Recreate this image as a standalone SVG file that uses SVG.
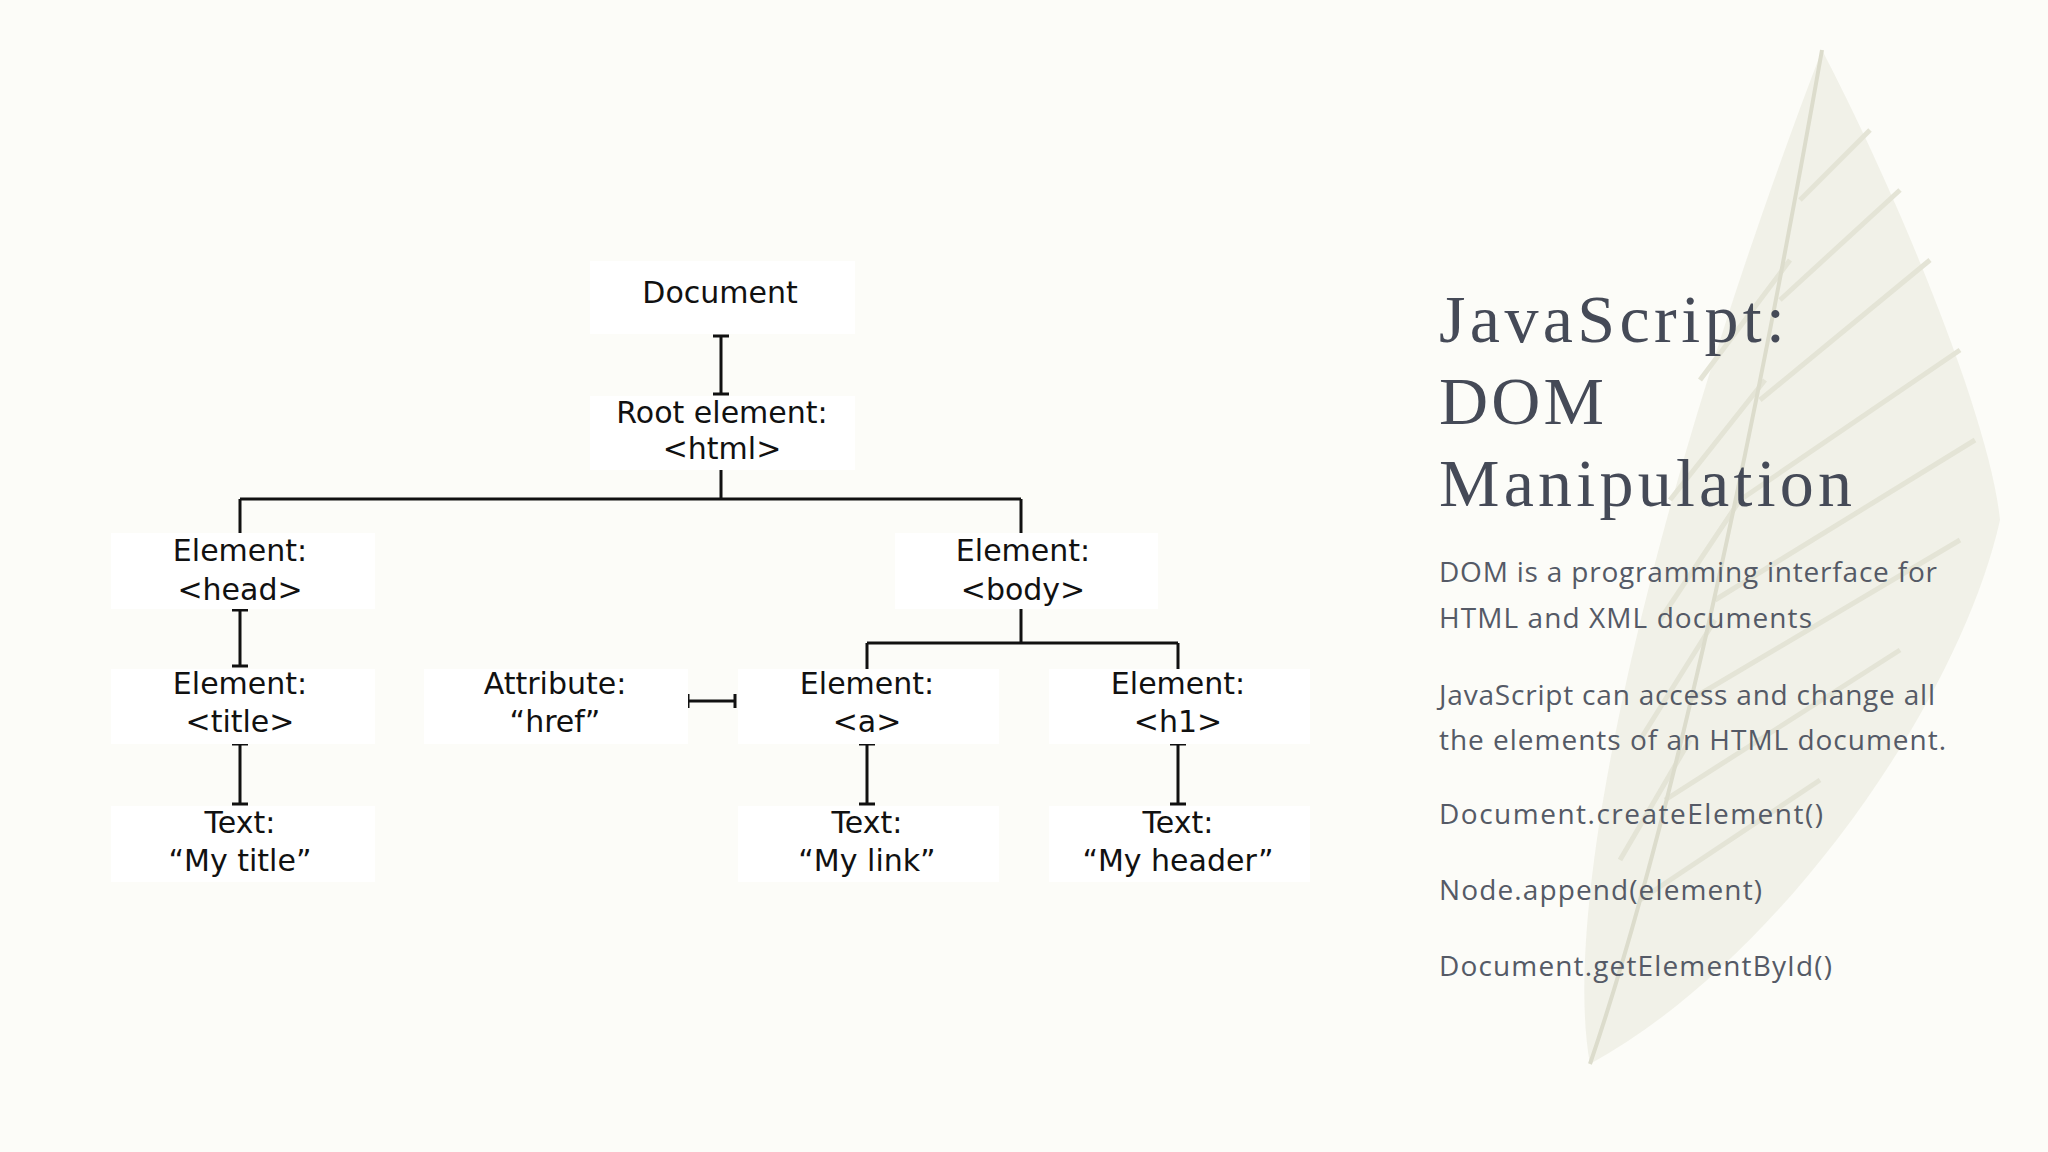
<svg xmlns="http://www.w3.org/2000/svg" width="2048" height="1152" viewBox="0 0 2048 1152">
<style>
.box{fill:#ffffff}
.t{font-family:"DejaVu Sans",sans-serif;font-size:30px;fill:#111;text-anchor:middle}
.c{stroke:#111;stroke-width:3;fill:none}
.h{font-family:"Liberation Serif",serif;font-size:68px;fill:#454a57}
.b{font-family:"Open Sans",sans-serif;font-size:28px;fill:#555a66}
.barb{stroke:#e4e4d6;stroke-width:5;fill:none}
</style>
<rect width="2048" height="1152" fill="#fcfcf8"/>
<g id="feather">
<path d="M1822,50 C1900,200 1990,420 2000,520 C1960,700 1780,960 1590,1064 C1560,900 1650,500 1822,50 Z" fill="#f1f1e8"/>
<path class="barb" d="M1800,200 L1870,130 M1780,300 L1900,190 M1760,400 L1930,260 M1740,500 L1960,350 M1715,600 L1975,440 M1690,700 L1960,540 M1665,800 L1900,650 M1640,900 L1820,780 M1790,260 L1700,380 M1765,380 L1670,500 M1740,500 L1660,620 M1715,620 L1640,740 M1690,740 L1620,860"/>
<path d="M1822,50 C1760,400 1680,800 1590,1064" fill="none" stroke="#dcdccc" stroke-width="4"/>
</g>
<g id="connectors" class="c">
<path d="M721,336 V394 M713,336 H729 M713,394 H729"/>
<path d="M721,470 V499 M240,499 H1021 M240,499 V533 M1021,499 V533"/>
<path d="M240,610 V666 M232,610 H248 M232,666 H248"/>
<path d="M1021,609 V643 M867,643 H1178 M867,643 V669 M1178,643 V669"/>
<path d="M240,744 V804 M232,744 H248 M232,804 H248"/>
<path d="M867,744 V804 M859,744 H875 M859,804 H875"/>
<path d="M1178,744 V804 M1170,744 H1186 M1170,804 H1186"/>
<path d="M688,701 H735 M688,694 V708 M735,694 V708"/>
</g>
<g id="document"><rect class="box" x="590" y="261" width="265" height="73"/><text class="t" x="720" y="303">Document</text></g>
<g id="root"><rect class="box" x="590" y="396" width="265" height="74"/><text class="t" x="722" y="423">Root element:</text><text class="t" x="722" y="459">&lt;html&gt;</text></g>
<g id="head"><rect class="box" x="111" y="533" width="264" height="76"/><text class="t" x="240" y="561">Element:</text><text class="t" x="240" y="600">&lt;head&gt;</text></g>
<g id="body"><rect class="box" x="895" y="533" width="263" height="76"/><text class="t" x="1023" y="561">Element:</text><text class="t" x="1023" y="600">&lt;body&gt;</text></g>
<g id="title"><rect class="box" x="111" y="669" width="264" height="75"/><text class="t" x="240" y="694">Element:</text><text class="t" x="240" y="732">&lt;title&gt;</text></g>
<g id="attr"><rect class="box" x="424" y="669" width="264" height="75"/><text class="t" x="555" y="694">Attribute:</text><text class="t" x="555" y="732">“href”</text></g>
<g id="a"><rect class="box" x="738" y="669" width="261" height="75"/><text class="t" x="867" y="694">Element:</text><text class="t" x="867" y="732">&lt;a&gt;</text></g>
<g id="h1"><rect class="box" x="1049" y="669" width="261" height="75"/><text class="t" x="1178" y="694">Element:</text><text class="t" x="1178" y="732">&lt;h1&gt;</text></g>
<g id="text1"><rect class="box" x="111" y="806" width="264" height="76"/><text class="t" x="240" y="833">Text:</text><text class="t" x="240" y="871">“My title”</text></g>
<g id="text2"><rect class="box" x="738" y="806" width="261" height="76"/><text class="t" x="867" y="833">Text:</text><text class="t" x="867" y="871">“My link”</text></g>
<g id="text3"><rect class="box" x="1049" y="806" width="261" height="76"/><text class="t" x="1178" y="833">Text:</text><text class="t" x="1178" y="871">“My header”</text></g>
<g id="panel">
<text class="h" x="1439" y="342" textLength="346">JavaScript:</text>
<text class="h" x="1439" y="424" textLength="165">DOM</text>
<text class="h" x="1439" y="506" textLength="413">Manipulation</text>
<text class="b" x="1439" y="582" textLength="498">DOM is a programming interface for</text>
<text class="b" x="1439" y="628" textLength="373">HTML and XML documents</text>
<text class="b" x="1439" y="705" textLength="496">JavaScript can access and change all</text>
<text class="b" x="1439" y="750" textLength="507">the elements of an HTML document.</text>
<text class="b" x="1439" y="824" textLength="384">Document.createElement()</text>
<text class="b" x="1439" y="900" textLength="323">Node.append(element)</text>
<text class="b" x="1439" y="976" textLength="393">Document.getElementById()</text>
</g>
</svg>
